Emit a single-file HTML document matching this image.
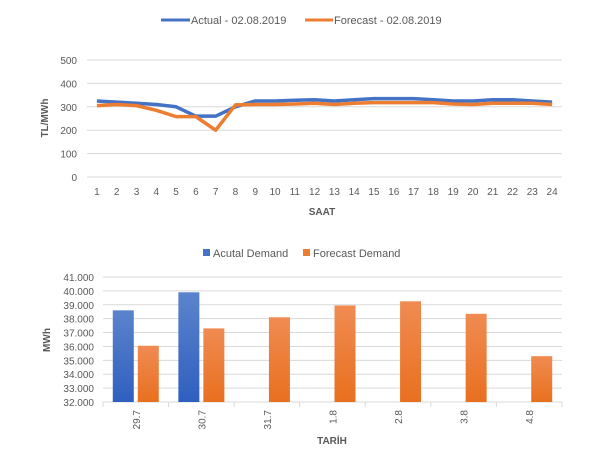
<!DOCTYPE html>
<html><head><meta charset="utf-8">
<style>
body{margin:0;background:#fff;font-family:"Liberation Sans",sans-serif;}
svg text{font-family:"Liberation Sans",sans-serif;fill:#595959;}
</style></head>
<body>
<svg width="615" height="453" viewBox="0 0 615 453">
<defs>
<linearGradient id="gb" x1="0" y1="0" x2="0" y2="1"><stop offset="0" stop-color="#5b84cc"/><stop offset="1" stop-color="#2f5fbf"/></linearGradient>
<linearGradient id="go" x1="0" y1="0" x2="0" y2="1"><stop offset="0" stop-color="#f08b52"/><stop offset="1" stop-color="#e8701f"/></linearGradient>
</defs>
<g id="c1">
<g><line x1="161" y1="20" x2="190" y2="20" stroke="#4472c4" stroke-width="3"/><text x="191" y="24" font-size="11">Actual - 02.08.2019</text></g>
<g><line x1="305" y1="20" x2="333" y2="20" stroke="#ed7d31" stroke-width="3"/><text x="334" y="24" font-size="11">Forecast - 02.08.2019</text></g>
<text transform="translate(48,118) rotate(-90)" text-anchor="middle" font-size="10" font-weight="bold">TL/MWh</text>
<text x="322" y="215" text-anchor="middle" font-size="10" font-weight="bold">SAAT</text>
</g>
<g id="c2">
<g><rect x="203" y="249" width="7" height="7" fill="#4472c4"/><text x="213" y="257" font-size="11">Acutal Demand</text></g>
<g><rect x="303" y="249" width="7" height="7" fill="#ed7d31"/><text x="313" y="257" font-size="11">Forecast Demand</text></g>
<text transform="translate(50,340) rotate(-90)" text-anchor="middle" font-size="10" font-weight="bold">MWh</text>
<text x="332" y="444" text-anchor="middle" font-size="10" font-weight="bold">TARİH</text>
</g>
</svg>
<script>
const hours=[1,2,3,4,5,6,7,8,9,10,11,12,13,14,15,16,17,18,19,20,21,22,23,24];
const actualPrice=[325,320,315,310,300,260,260,300,325,325,328,330,325,330,335,335,335,330,325,325,330,330,325,320];
const forecastPrice=[305,310,305,285,258,258,200,308,310,310,312,315,310,315,318,318,318,318,312,310,315,315,315,310];
const priceTicks=[0,100,200,300,400,500];
const dates=["29.7","30.7","31.7","1.8","2.8","3.8","4.8"];
const actualDemand=[38600,39900,null,null,null,null,null];
const forecastDemand=[36050,37300,38100,38950,39250,38350,35300];
const demandTicks=[32000,33000,34000,35000,36000,37000,38000,39000,40000,41000];
const NS="http://www.w3.org/2000/svg";
function mk(p,t,a){const e=document.createElementNS(NS,t);for(const k in a)e.setAttribute(k,a[k]);p.appendChild(e);return e;}
const c1=document.getElementById('c1'),c2=document.getElementById('c2');
// chart 1
const L1=87,R1=562,T1=60,B1=177;
const y1=v=>B1-(v/500)*(B1-T1);
const x1=i=>L1+(i+0.5)*(R1-L1)/hours.length;
priceTicks.forEach(t=>{
 const g=mk(c1,'line',{x1:L1,x2:R1,y1:y1(t),y2:y1(t),stroke:'#d9d9d9','stroke-width':1});
 
 
 const tx=mk(c1,'text',{x:77,y:y1(t)+4,'text-anchor':'end','font-size':10});tx.textContent=t;
 
 
});
hours.forEach((h,i)=>{const tx=mk(c1,'text',{x:x1(i),y:195,'text-anchor':'middle','font-size':10});tx.textContent=h;
 
 });
const pa=mk(c1,'polyline',{points:actualPrice.map((v,i)=>x1(i)+','+y1(v)).join(' '),fill:'none',stroke:'#4472c4','stroke-width':3.5,'stroke-linejoin':'round'});


const pf=mk(c1,'polyline',{points:forecastPrice.map((v,i)=>x1(i)+','+y1(v)).join(' '),fill:'none',stroke:'#ed7d31','stroke-width':3.5,'stroke-linejoin':'round'});


// chart 2
const L2=103,R2=562,T2=277,B2=402;
const y2=v=>B2-((v-32000)/9000)*(B2-T2);
const bw=(R2-L2)/dates.length;
demandTicks.forEach(t=>{
 const g=mk(c2,'line',{x1:L2,x2:R2,y1:y2(t),y2:y2(t),stroke:'#d9d9d9','stroke-width':1});
 
 
 const tx=mk(c2,'text',{x:94,y:y2(t)+4,'text-anchor':'end','font-size':10});tx.textContent=(t/1000).toFixed(3);
 
 
});
for(let i=0;i<=dates.length;i++){const l=mk(c2,'line',{x1:L2+i*bw,x2:L2+i*bw,y1:B2,y2:B2+5,stroke:'#d9d9d9'});
 
 }
dates.forEach((d,i)=>{
 const cx=L2+(i+0.5)*bw;
 if(actualDemand[i]!=null){const r=mk(c2,'rect',{x:cx-23,y:y2(actualDemand[i]),width:21,height:B2-y2(actualDemand[i]),fill:'url(#gb)'});
  
  }
 const r=mk(c2,'rect',{x:cx+2,y:y2(forecastDemand[i]),width:21,height:B2-y2(forecastDemand[i]),fill:'url(#go)'});
 
 
 const tx=mk(c2,'text',{transform:`translate(${cx+4},410) rotate(-90)`,'text-anchor':'end','font-size':10});tx.textContent=d;
 
 
});
</script>
</body></html>
